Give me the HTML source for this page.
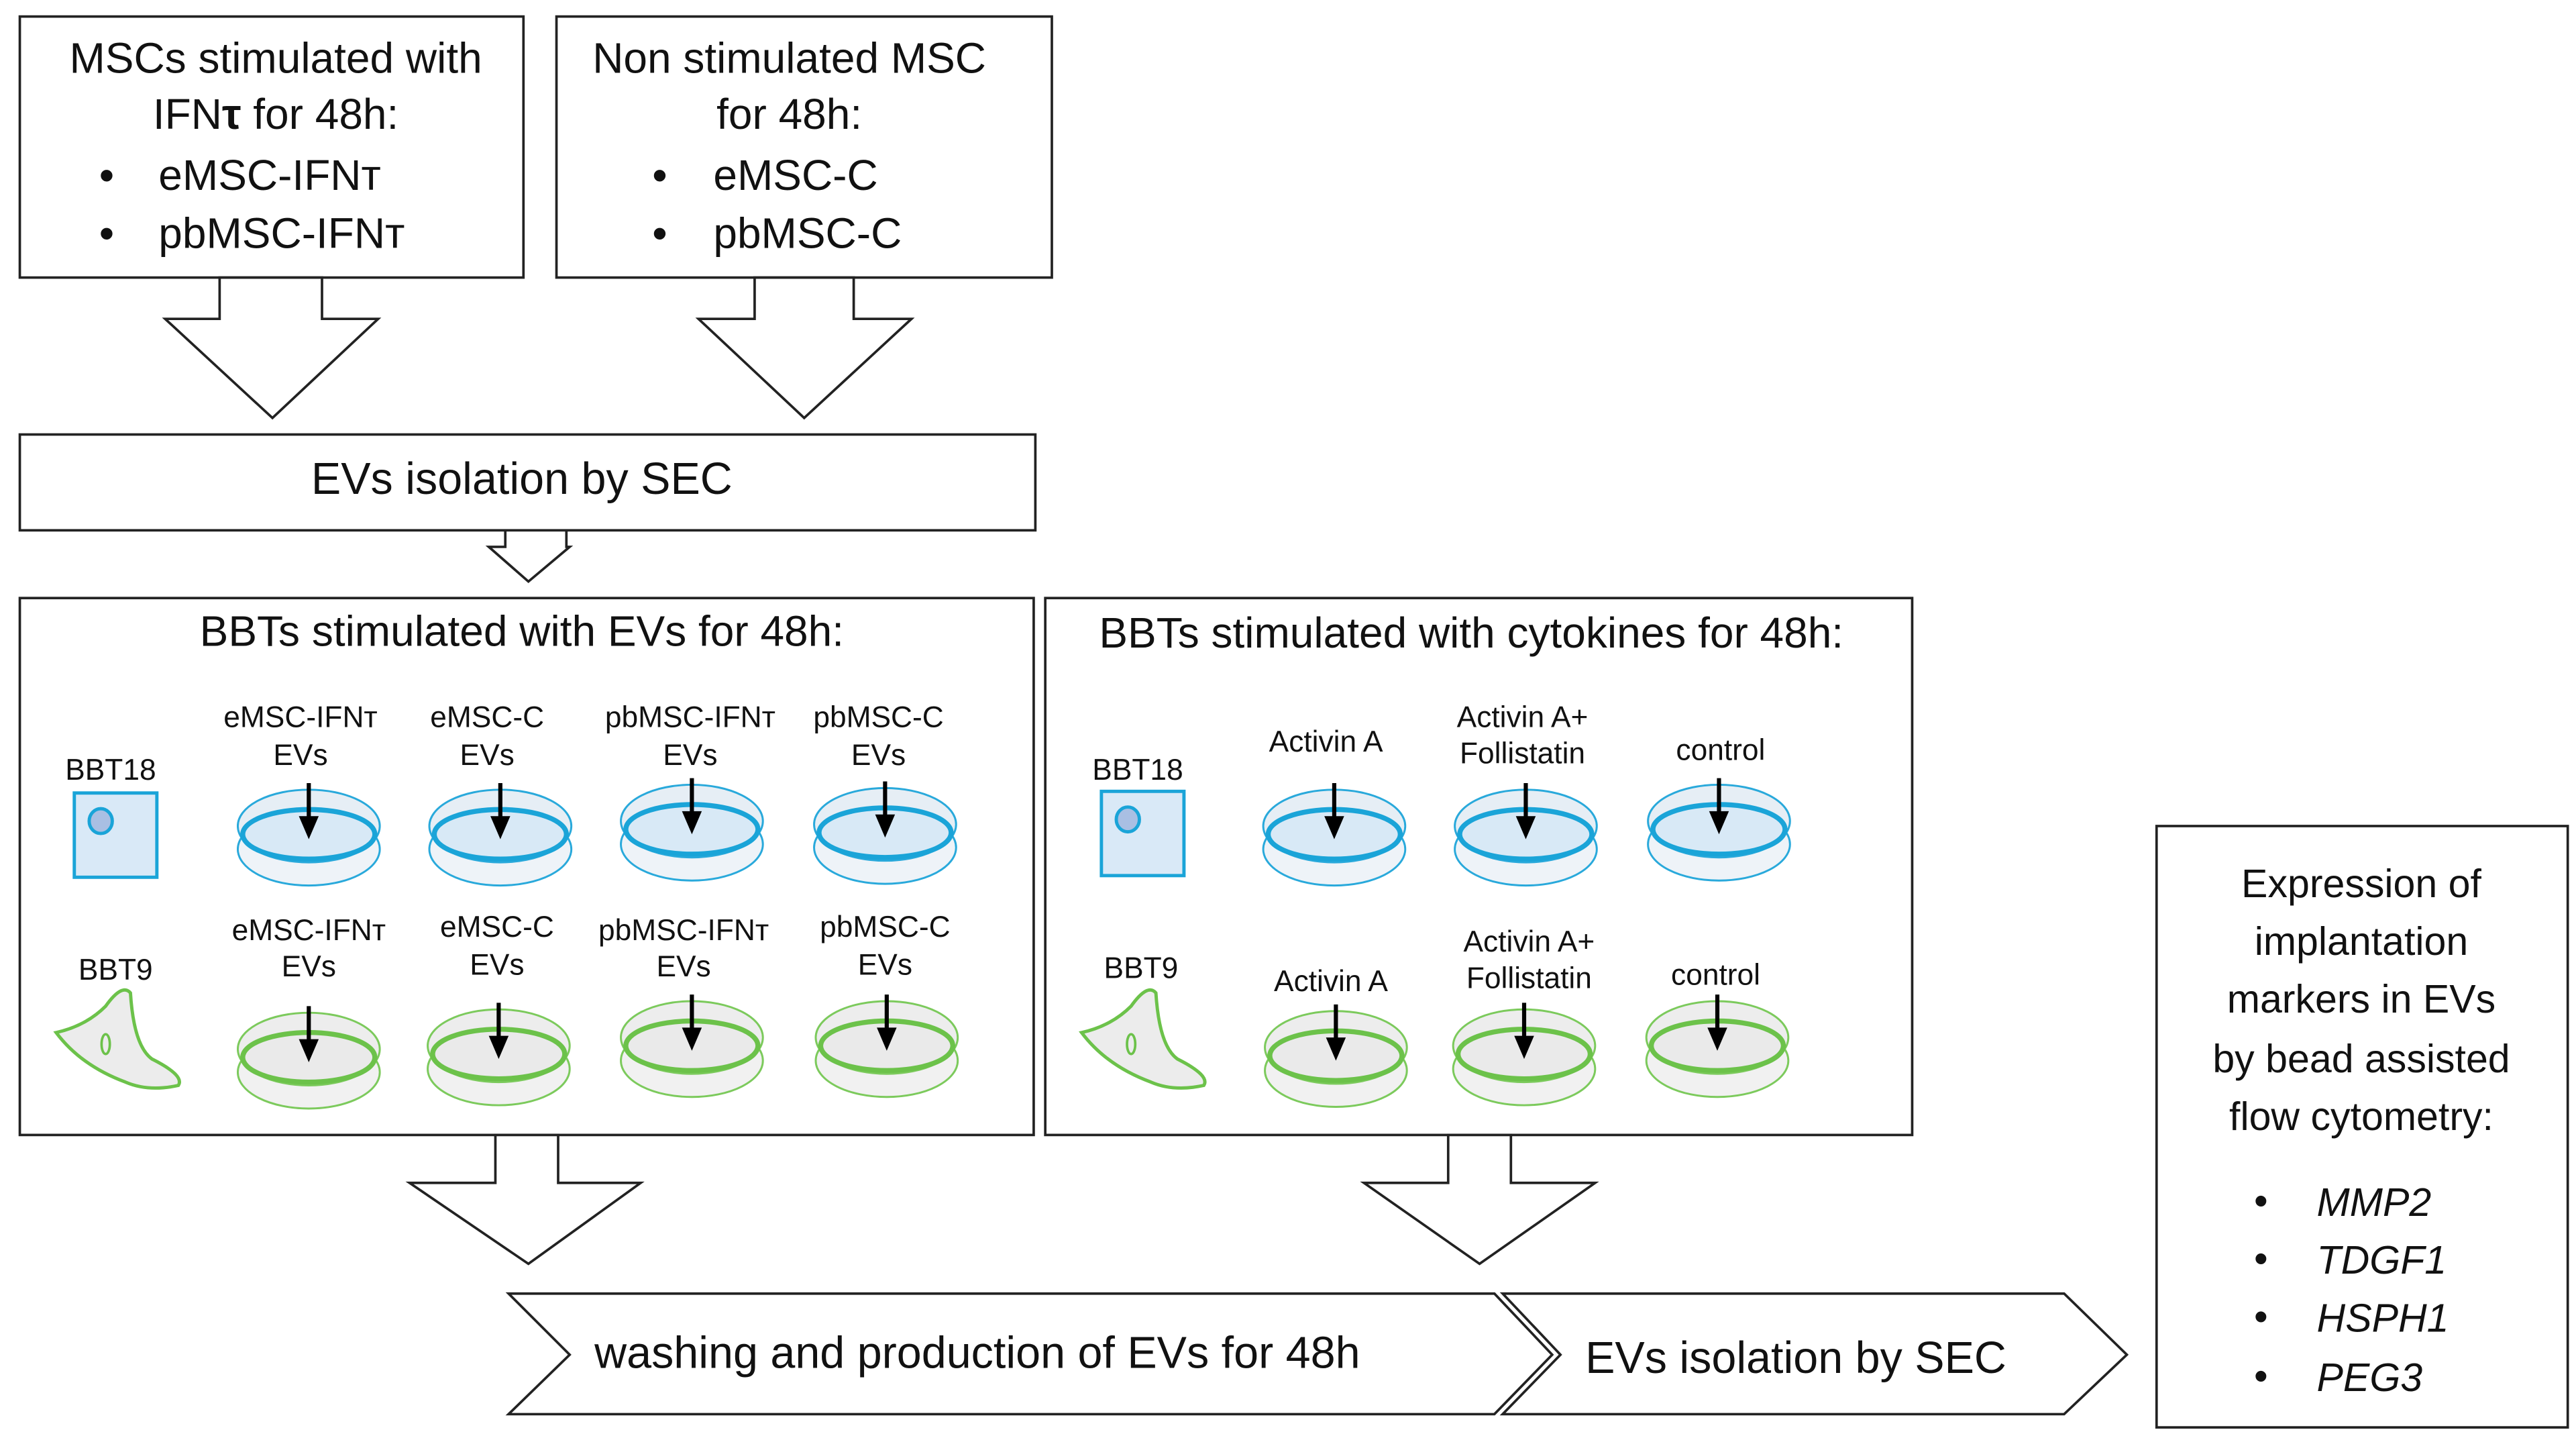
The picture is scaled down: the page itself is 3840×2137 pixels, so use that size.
<!DOCTYPE html>
<html><head><meta charset="utf-8"><style>
html,body{margin:0;padding:0;background:#fff;}
svg{display:block;}
text{font-family:"Liberation Sans",Arial,sans-serif;fill:#111;}
</style></head><body>
<svg width="3840" height="2137" viewBox="0 0 1560 868" preserveAspectRatio="none" xmlns="http://www.w3.org/2000/svg">
<defs>
<g id="db">
 <ellipse cx="0" cy="12" rx="43" ry="22" fill="#eef3f8" stroke="#29a9db" stroke-width="1.2"/>
 <ellipse cx="0" cy="-2" rx="43" ry="22" fill="#e6eef5" stroke="#29a9db" stroke-width="1.2"/>
 <ellipse cx="0" cy="3" rx="40" ry="15" fill="#d8e9f6" stroke="#1aa4d8" stroke-width="3"/>
 <line x1="0" y1="-28" x2="0" y2="-2" stroke="#000" stroke-width="2.5"/>
 <polygon points="-6,-8 6,-8 0,6" fill="#000"/>
</g>
<g id="dg">
 <ellipse cx="0" cy="12" rx="43" ry="22" fill="#f1f1f1" stroke="#7cca5c" stroke-width="1.2"/>
 <ellipse cx="0" cy="-2" rx="43" ry="22" fill="#ededed" stroke="#7cca5c" stroke-width="1.2"/>
 <ellipse cx="0" cy="3" rx="40" ry="15" fill="#eaeaea" stroke="#6cc24a" stroke-width="3"/>
 <line x1="0" y1="-28" x2="0" y2="-2" stroke="#000" stroke-width="2.5"/>
 <polygon points="-6,-8 6,-8 0,6" fill="#000"/>
</g>
<g id="sq">
 <rect x="0" y="0" width="50" height="51" fill="#d9e9f7" stroke="#1aa4d8" stroke-width="2"/>
 <ellipse cx="16" cy="17" rx="7" ry="7.5" fill="#a9bfe3" stroke="#1aa4d8" stroke-width="2"/>
</g>
<g id="cell">
 <path d="M0,24 Q18,20 30,8 Q40,-6 45,0 Q47,32 58,40 Q78,50 74,56 Q56,60 42,54 Q15,44 0,24 Z" fill="#ececec" stroke="#6cc24a" stroke-width="2"/>
 <ellipse cx="30" cy="31" rx="2.5" ry="6" fill="none" stroke="#6cc24a" stroke-width="1.5"/>
</g>
</defs>
<g fill="#fff" stroke="#222" stroke-width="1.5">
<rect x="12" y="10" width="305" height="158"/>
<rect x="337" y="10" width="300" height="158"/>
<polygon points="133,168 195,168 195,193 229,193 165,253 100,193 133,193"/>
<polygon points="457,168 517,168 517,193 552,193 487,253 423,193 457,193"/>
<rect x="12" y="263" width="615" height="58"/>
<polygon points="306,321 343,321 343,331 345,331 320,352 296,331 306,331"/>
<rect x="12" y="362" width="614" height="325"/>
<rect x="633" y="362" width="525" height="325"/>
<polygon points="300,687 338,687 338,716 388,716 320,765 248,716 300,716"/>
<polygon points="877,687 915,687 915,716 966,716 896,765 826,716 877,716"/>
<polygon points="308,783 905,783 940,820 905,856 308,856 345,820"/>
<polygon points="910,783 1250,783 1288,820 1250,856 910,856 945,820"/>
<rect x="1306" y="500" width="249" height="364"/>
</g>
<g font-size="26">
<text x="167" y="44" text-anchor="middle">MSCs stimulated with</text>
<text x="167" y="78" text-anchor="middle">IFN<tspan font-weight="bold">τ</tspan> for 48h:</text>
<text x="60" y="115">•</text><text x="96" y="115">eMSC-IFNт</text>
<text x="60" y="150">•</text><text x="96" y="150">pbMSC-IFNт</text>
<text x="478" y="44" text-anchor="middle">Non stimulated MSC</text>
<text x="478" y="78" text-anchor="middle">for 48h:</text>
<text x="395" y="115">•</text><text x="432" y="115">eMSC-C</text>
<text x="395" y="150">•</text><text x="432" y="150">pbMSC-C</text>
<text x="316" y="299" text-anchor="middle" font-size="27">EVs isolation by SEC</text>
<text x="316" y="391" text-anchor="middle">BBTs stimulated with EVs for 48h:</text>
<text x="891" y="392" text-anchor="middle">BBTs stimulated with cytokines for 48h:</text>
<text x="360" y="828" font-size="27">washing and production of EVs for 48h</text>
<text x="960" y="831" font-size="27">EVs isolation by SEC</text>
</g>
<g font-size="24" text-anchor="middle">
<text x="1430" y="543">Expression of</text>
<text x="1430" y="578">implantation</text>
<text x="1430" y="613">markers in EVs</text>
<text x="1430" y="649">by bead assisted</text>
<text x="1430" y="684">flow cytometry:</text>
</g>
<g font-size="24">
<text x="1365" y="735">•</text><text x="1403" y="736" font-style="italic">MMP2</text>
<text x="1365" y="770">•</text><text x="1403" y="771" font-style="italic">TDGF1</text>
<text x="1365" y="805">•</text><text x="1403" y="806" font-style="italic">HSPH1</text>
<text x="1365" y="841">•</text><text x="1403" y="842" font-style="italic">PEG3</text>
</g>
<g font-size="18" text-anchor="middle">
<text x="67" y="472">BBT18</text>
<text x="70" y="593">BBT9</text>
<text x="182" y="440">eMSC-IFNт</text><text x="182" y="463">EVs</text>
<text x="295" y="440">eMSC-C</text><text x="295" y="463">EVs</text>
<text x="418" y="440">pbMSC-IFNт</text><text x="418" y="463">EVs</text>
<text x="532" y="440">pbMSC-C</text><text x="532" y="463">EVs</text>
<text x="187" y="569">eMSC-IFNт</text><text x="187" y="591">EVs</text>
<text x="301" y="567">eMSC-C</text><text x="301" y="590">EVs</text>
<text x="414" y="569">pbMSC-IFNт</text><text x="414" y="591">EVs</text>
<text x="536" y="567">pbMSC-C</text><text x="536" y="590">EVs</text>
<text x="689" y="472">BBT18</text>
<text x="691" y="592">BBT9</text>
<text x="803" y="455">Activin A</text>
<text x="922" y="440">Activin A+</text><text x="922" y="462">Follistatin</text>
<text x="1042" y="460">control</text>
<text x="806" y="600">Activin A</text>
<text x="926" y="576">Activin A+</text><text x="926" y="598">Follistatin</text>
<text x="1039" y="596">control</text>
</g>
<use href="#sq" x="45" y="480"/>
<use href="#sq" x="667" y="479"/>
<use href="#cell" x="34" y="601"/>
<use href="#cell" x="655" y="601"/>
<use href="#db" x="187" y="502"/>
<use href="#db" x="303" y="502"/>
<use href="#db" x="419" y="499"/>
<use href="#db" x="536" y="501"/>
<use href="#db" x="808" y="502"/>
<use href="#db" x="924" y="502"/>
<use href="#db" x="1041" y="499"/>
<use href="#dg" x="187" y="637"/>
<use href="#dg" x="302" y="635"/>
<use href="#dg" x="419" y="630"/>
<use href="#dg" x="537" y="630"/>
<use href="#dg" x="809" y="636"/>
<use href="#dg" x="923" y="635"/>
<use href="#dg" x="1040" y="630"/>
</svg>
</body></html>
